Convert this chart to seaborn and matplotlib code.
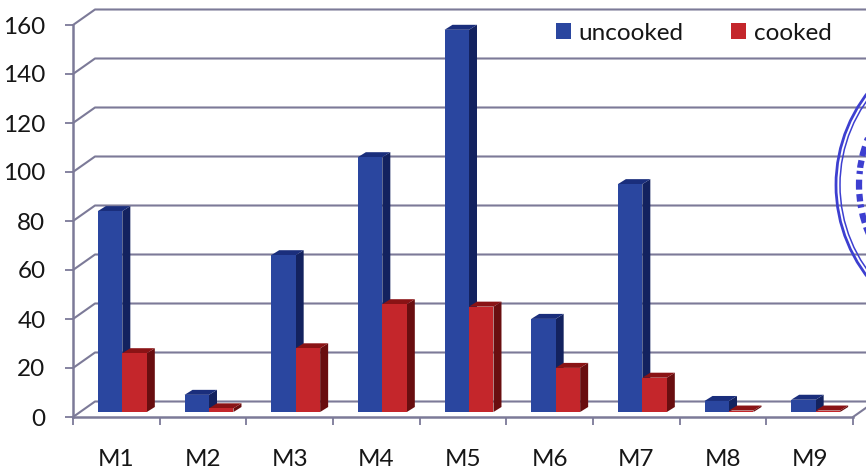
import matplotlib
matplotlib.use("Agg")
import matplotlib.pyplot as plt
from matplotlib.patches import Circle
from matplotlib.transforms import IdentityTransform
import pandas as pd
import seaborn as sns

samples = ["M1", "M2", "M3", "M4", "M5", "M6", "M7", "M8", "M9"]
uncooked = [82, 7, 64, 104, 156, 38, 93, 4.5, 5]
cooked = [24, 1.5, 26, 44, 43, 18, 14, 0.6, 0.6]
y_ticks = [0, 20, 40, 60, 80, 100, 120, 140, 160]

WIDTH, HEIGHT = 866, 471
LEFT, RIGHT, BOTTOM, TOP = 73, 853, 417, 25
PX_X = (RIGHT - LEFT) / len(samples)
PX_Y = (BOTTOM - TOP) / 160

# Pseudo-3D offsets, converted from pixels to data units
WALL_DX, WALL_DY = 22 / PX_X, 15.5 / PX_Y
BAR_DX, BAR_DY = 8 / PX_X, 5 / PX_Y
BAR_SHIFT, BAR_BASE = 6 / PX_X, 5 / PX_Y

LINE = "#7c7a98"
INK = "#161616"
FACES = {
    "uncooked": ("#2a469f", "#13225f", "#1a2e7c"),
    "cooked": ("#c4262b", "#690e10", "#8a1315"),
}

sns.set_theme(style="white")
plt.rcParams["font.family"] = ["Lato", "DejaVu Sans"]

fig = plt.figure(figsize=(WIDTH / 100, HEIGHT / 100), dpi=100)
ax = fig.add_axes([LEFT / WIDTH, 1 - BOTTOM / HEIGHT,
                   (RIGHT - LEFT) / WIDTH, (BOTTOM - TOP) / HEIGHT])

df = pd.DataFrame({
    "sample": samples * 2,
    "type": ["uncooked"] * len(samples) + ["cooked"] * len(samples),
    "value": uncooked + cooked,
})
sns.barplot(data=df, x="sample", y="value", hue="type", order=samples,
            hue_order=list(FACES), palette={k: v[0] for k, v in FACES.items()},
            width=0.565, gap=0, saturation=1, errorbar=None, linewidth=0,
            ax=ax, zorder=3)

# Lift each bar onto the floor and add its side and top faces
for order, (container, name) in enumerate(zip(ax.containers, FACES)):
    _, side, top = FACES[name]
    z = 3 + order
    for bar in container:
        bar.set_x(bar.get_x() + BAR_SHIFT)
        bar.set_y(BAR_BASE)
        bar.set_zorder(z + 0.2)
        x0, x1 = bar.get_x(), bar.get_x() + bar.get_width()
        y0, y1 = BAR_BASE, BAR_BASE + bar.get_height()
        ax.fill([x1, x1 + BAR_DX, x1 + BAR_DX, x1],
                [y0, y0 + BAR_DY, y1 + BAR_DY, y1],
                color=side, lw=0, zorder=z, clip_on=False)
        ax.fill([x0, x0 + BAR_DX, x1 + BAR_DX, x1],
                [y1, y1 + BAR_DY, y1 + BAR_DY, y1],
                color=top, lw=0, zorder=z + 0.1, clip_on=False)

# Back wall gridlines with their slanted side-wall segments
x_min, x_max = -0.5, len(samples) - 0.5
for v in y_ticks:
    ax.plot([x_min, x_min + WALL_DX, x_max + WALL_DX],
            [v, v + WALL_DY, v + WALL_DY],
            color=LINE, lw=1.5, zorder=1, clip_on=False)
ax.plot([x_max, x_max + WALL_DX], [0, WALL_DY], color=LINE, lw=1.5, zorder=1, clip_on=False)

ax.set_xlim(x_min, x_max)
ax.set_ylim(0, 160)
ax.set_xlabel("")
ax.set_ylabel("")
ax.set_yticks(y_ticks)
ax.set_xticks([i - 0.5 for i in range(len(samples) + 1)], minor=True)
ax.tick_params(axis="x", which="major", length=0, pad=23, labelsize=17.5, labelcolor=INK)
ax.tick_params(axis="x", which="minor", length=5.8, width=1.3, color=LINE, bottom=True)
ax.tick_params(axis="y", length=5.8, width=1.3, color=LINE, pad=14, labelsize=17.5,
               labelcolor=INK, left=True)
sns.despine(ax=ax)
for side in ("left", "bottom"):
    ax.spines[side].set_color(LINE)
    ax.spines[side].set_linewidth(1.8)
    ax.spines[side].set_zorder(2)

sns.move_legend(ax, "center left",
                bbox_to_anchor=((556 - LEFT) / (RIGHT - LEFT), (BOTTOM - 33) / (BOTTOM - TOP)),
                ncols=2, frameon=False, title=None, fontsize=17.5, labelcolor=INK,
                handlelength=0.62, handleheight=0.62, handletextpad=0.32,
                columnspacing=1.95, borderaxespad=0, borderpad=0)

# Ink stamp partly visible at the right edge
stamp_xy = (986, HEIGHT - 185)
for radius, lw in ((150, 2.0), (146, 1.1)):
    fig.add_artist(Circle(stamp_xy, radius, fill=False, ec="#3d3fd0", lw=lw,
                          transform=IdentityTransform()))
fig.add_artist(Circle(stamp_xy, 127, fill=False, ec="#3d3fd0", lw=4.5,
                      ls=(0, (1.2, 0.5, 0.5, 0.9, 1.6, 0.7)),
                      transform=IdentityTransform()))

fig.savefig("out.png", dpi=100, facecolor="white")
